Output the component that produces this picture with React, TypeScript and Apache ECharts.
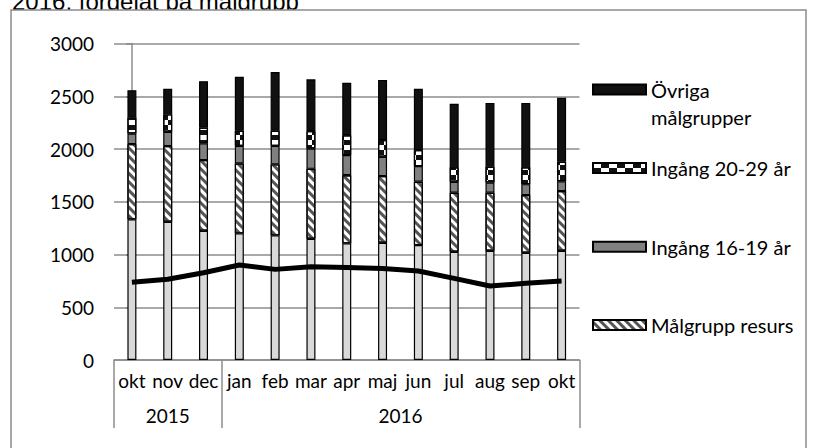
import React, { useEffect, useRef } from 'react';
import * as echarts from 'echarts';

const months = ['okt', 'nov', 'dec', 'jan', 'feb', 'mar', 'apr', 'maj', 'jun', 'jul', 'aug', 'sep', 'okt'];
const yearLabels = ['2015', '2016'];
const yearCenters = [1, 7.5];
const yearBounds = [-0.5, 2.5, 12.5];
const yTicks = { min: 0, max: 3000, interval: 500 };

const basData = [1333, 1310, 1225, 1200, 1181, 1149, 1105, 1111, 1089, 1026, 1035, 1016, 1035];
const resursData = [713, 717, 670, 663, 673, 663, 646, 632, 600, 559, 550, 547, 566];
const ing1619Data = [101, 136, 158, 167, 176, 193, 191, 183, 149, 104, 98, 104, 93];
const ing2029Data = [152, 165, 151, 142, 142, 164, 189, 158, 151, 137, 148, 159, 184];
const ovrigaData = [259, 242, 439, 513, 558, 491, 496, 571, 581, 602, 606, 611, 607];
const lineData = [736, 765, 827, 900, 859, 884, 876, 868, 843, 774, 701, 727, 748];

const titleText = '2016, fördelat på målgrupp';

export default function App() {
  const ref = useRef<HTMLDivElement>(null);
  useEffect(() => {
    const chart = echarts.init(ref.current!, null, { renderer: 'svg' });
    const font = 'Lato';
    const fs = 19;
    const lfs = 20;
    const gray = '#8c8c8c';
    const barCommon = {
      type: 'bar',
      stack: 'total',
      barWidth: 9,
      xAxisIndex: 0,
      yAxisIndex: 0,
    };
    const border = { borderColor: '#000', borderWidth: 1.2 };
    const legendCommon = {
      orient: 'vertical',
      left: 592,
      padding: 0,
      itemWidth: 53,
      itemHeight: 10,
      icon: 'rect',
      itemGap: 0,
      selectedMode: false,
    };
    chart.setOption({
      animation: false,
      backgroundColor: '#fff',
      textStyle: { fontFamily: font },
      grid: { left: 114, right: 233.5, top: 43.5, bottom: 88 },
      xAxis: [
        {
          type: 'category',
          data: months,
          boundaryGap: true,
          axisLine: { show: true, lineStyle: { color: gray, width: 1.5 } },
          axisTick: { show: false },
          axisLabel: { color: '#000', fontSize: fs, fontFamily: font, margin: 11, interval: 0 },
          splitLine: { show: false },
        },
        {
          type: 'value',
          min: -0.5,
          max: 12.5,
          position: 'bottom',
          axisLine: { show: false },
          splitLine: { show: false },
          axisTick: {
            show: true,
            customValues: yearBounds,
            length: 68,
            lineStyle: { color: gray, width: 1.5 },
          },
          axisLabel: {
            show: true,
            customValues: yearCenters,
            formatter: (v: number) => yearLabels[yearCenters.indexOf(v)] ?? '',
            color: '#000',
            fontSize: fs,
            fontFamily: font,
            margin: 46,
          },
        },
      ],
      yAxis: {
        type: 'value',
        min: yTicks.min,
        max: yTicks.max,
        interval: yTicks.interval,
        axisLine: { show: true, lineStyle: { color: gray, width: 1.5 } },
        axisTick: { show: true, length: 6, lineStyle: { color: gray, width: 1.5 } },
        splitLine: { show: true, lineStyle: { color: gray, width: 1.5 } },
        axisLabel: {
          color: '#000',
          fontSize: fs,
          fontFamily: font,
          margin: 20,
          formatter: (v: number) => String(v),
        },
      },
      legend: [
        {
          ...legendCommon,
          top: 89.5 - 40.5,
          data: ['Övriga målgrupper'],
          formatter: () => '\u00a0\nÖvriga\nmålgrupper',
          textStyle: { fontSize: lfs, fontFamily: font, color: '#000', lineHeight: 27 },
        },
        {
          ...legendCommon,
          top: 168 - 11,
          data: ['Ingång 20-29 år'],
          textStyle: { fontSize: lfs, fontFamily: font, color: '#000', lineHeight: 22 },
        },
        {
          ...legendCommon,
          top: 246.7 - 11,
          data: ['Ingång 16-19 år'],
          textStyle: { fontSize: lfs, fontFamily: font, color: '#000', lineHeight: 22 },
        },
        {
          ...legendCommon,
          top: 325 - 11,
          data: ['Målgrupp resurs'],
          textStyle: { fontSize: lfs, fontFamily: font, color: '#000', lineHeight: 22 },
        },
      ],
      graphic: [
        {
          type: 'text',
          x: 12,
          y: 1,
          z: -20,
          style: {
            text: titleText,
            font: '24px "Liberation Sans"',
            fill: '#000',
            verticalAlign: 'middle',
          },
        },
        {
          type: 'rect',
          z: -10,
          shape: { x: 11, y: 10, width: 795, height: 460 },
          style: { fill: '#fff', stroke: gray, lineWidth: 1.5 },
        },
      ],
      series: [
        {
          ...barCommon,
          name: 'Grund',
          data: basData,
          itemStyle: { color: '#d9d9d9', ...border },
        },
        {
          ...barCommon,
          name: 'Målgrupp resurs',
          data: resursData,
          itemStyle: {
            color: '#ffffff',
            ...border,
            decal: {
              symbol: 'rect',
              symbolSize: 1,
              color: '#555555',
              dashArrayX: [1, 0],
              dashArrayY: [2.5, 2.5],
              rotation: Math.PI / 4,
            },
          },
        },
        {
          ...barCommon,
          name: 'Ingång 16-19 år',
          data: ing1619Data,
          itemStyle: { color: '#808080', ...border },
        },
        {
          ...barCommon,
          name: 'Ingång 20-29 år',
          data: ing2029Data,
          itemStyle: {
            color: '#ffffff',
            ...border,
            decal: {
              symbol: 'rect',
              symbolSize: 1,
              color: '#111111',
              dashArrayX: [[8, 8], [0, 8, 8, 0]],
              dashArrayY: [5, 0],
            },
          },
        },
        {
          ...barCommon,
          name: 'Övriga målgrupper',
          data: ovrigaData,
          itemStyle: { color: '#111111', ...border },
        },
        {
          type: 'line',
          name: 'Linje',
          data: lineData,
          xAxisIndex: 0,
          yAxisIndex: 0,
          symbol: 'none',
          lineStyle: { color: '#000', width: 5 },
          itemStyle: { color: '#000' },
          z: 5,
        },
      ],
    });
    return () => chart.dispose();
  }, []);
  return <div ref={ref} style={{ position: 'absolute', left: 0, top: 0, width: 813, height: 448 }} />;
}
